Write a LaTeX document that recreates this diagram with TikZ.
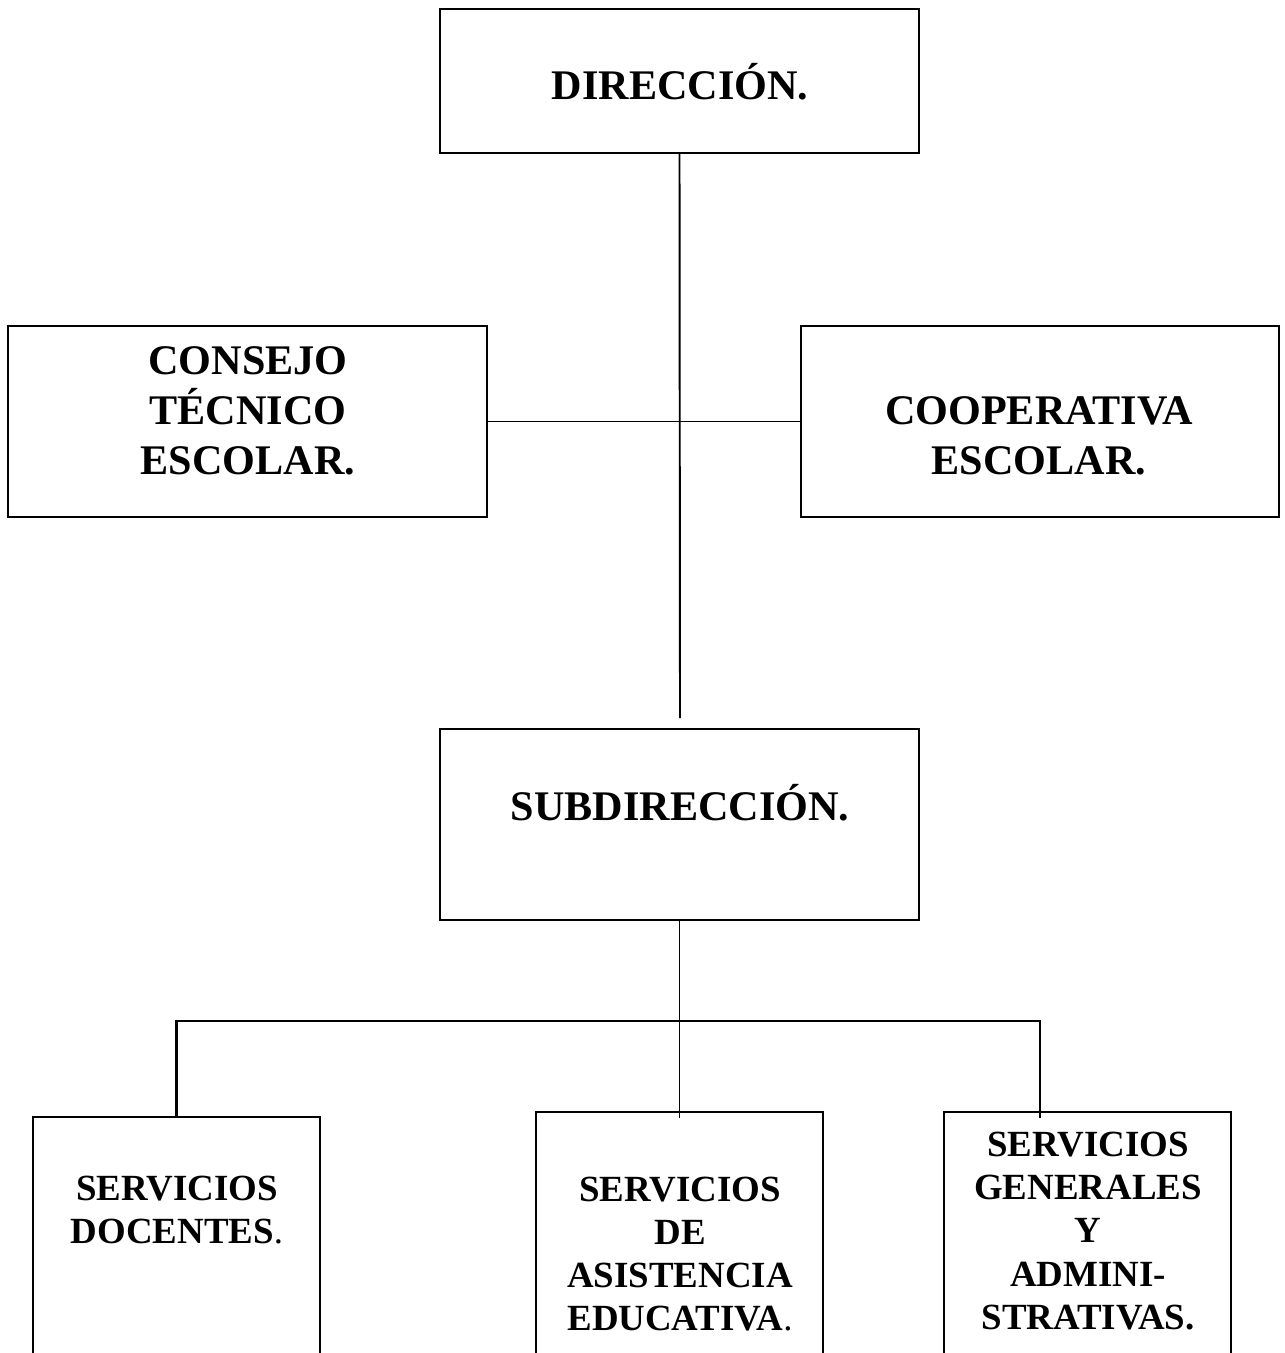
\documentclass[tikz,border=0pt]{standalone}
\usepackage{fontspec}
\setmainfont{Liberation Serif}
\usepackage{tikz}
\tikzset{
  every picture/.style={
    line join=miter,
    line cap=butt,
  },
  box/.style={draw, line width=1.1pt, inner sep=0pt, outer sep=0pt},
  bigbox/.style={box, minimum width=9.58cm, minimum height=3.82cm},
  lowbox/.style={box, minimum width=5.74cm, minimum height=6cm},
  bigtxt/.style={font=\fontsize{24}{28.4}\selectfont\bfseries, align=center, inner sep=0pt},
  smalltxt/.style={font=\fontsize{21}{24.6}\selectfont\bfseries, align=center, inner sep=0pt},
  link/.style={line width=1.1pt},
}

\begin{document}
\begin{tikzpicture}[x=0.02cm, y=-0.02cm]
    \path[use as bounding box, clip] (0,0) rectangle (1285,1353);

    % Top level
    \node[box, minimum width=9.58cm, minimum height=2.88cm] (dir) at (679.5,81) {};
    \node[bigtxt] (dirtxt) at (680,82) {DIRECCIÓN.};

    % Side bodies
    \node[bigbox] (cte) at (247.5,421.5) {};
    \node[bigtxt] (ctetxt) at (248,411) {CONSEJO\\TÉCNICO\\ESCOLAR.};
    \node[bigbox] (coop) at (1040,421.5) {};
    \node[bigtxt] (cooptxt) at (1039,436) {COOPERATIVA\\ESCOLAR.};

    % Second level
    \node[bigbox] (sub) at (679.5,824.5) {};
    \node[bigtxt] (subtxt) at (680,803) {SUBDIRECCIÓN.};

    % Services (boxes run off the page)
    \node[lowbox] (sd) at (176.5,1267) {};
    \node[smalltxt] (sdtxt) at (177,1210) {SERVICIOS\\DOCENTES\textmd{.}};
    \node[lowbox] (sae) at (679.5,1262) {};
    \node[smalltxt] (saetxt) at (680,1254) {SERVICIOS\\DE\\ASISTENCIA\\EDUCATIVA\textmd{.}};
    \node[lowbox] (sg) at (1087.5,1262) {};
    \node[smalltxt] (sgtxt) at (1088,1231) {SERVICIOS\\GENERALES\\Y\\ADMINI-\\STRATIVAS.};

    % Connectors
    \coordinate (subtop) at (680,718);
    \coordinate (bar) at (680,1021);
    \coordinate (sgdrop) at (1040,1118);
    \draw[link] (dir.south) -- (subtop);
    \draw[link] (cte.east) -- (coop.west);
    \draw[link] (sub.south) -- ([yshift=-0.12cm]sae.north);
    \draw[line width=1.5pt] (sd.north) |- (bar) -| (sgdrop);
\end{tikzpicture}
\end{document}
